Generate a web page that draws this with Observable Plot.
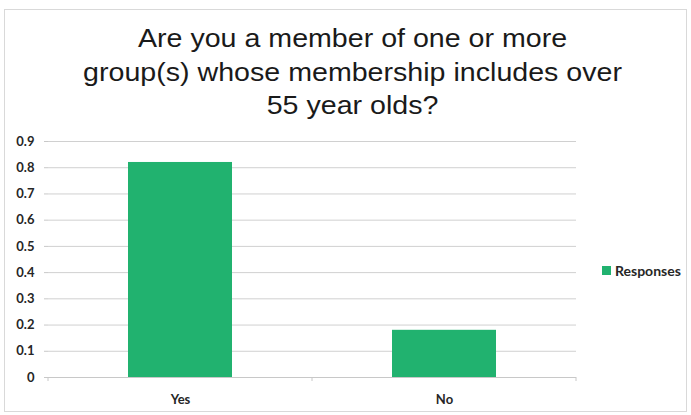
<!DOCTYPE html>
<html>
<head>
<meta charset="utf-8">
<script src="https://cdn.jsdelivr.net/npm/d3@7"></script>
<script src="https://cdn.jsdelivr.net/npm/@observablehq/plot@0.6"></script>
<style>
  html, body { margin: 0; padding: 0; background: #fff; }
  #wrap { position: relative; width: 691px; height: 415px; overflow: hidden; background: #fff; }
  #frame { position: absolute; left: 4px; top: 9px; width: 683px; height: 403px; border: 1px solid #d9d9d9; box-sizing: border-box; }
  #title { position: absolute; left: 7px; top: 22px; width: 691px; text-align: center;
           font-family: "Liberation Sans", Arial, sans-serif; font-size: 26px; line-height: 33.5px; color: #1a1a1a;
           transform: scaleX(1.1); transform-origin: 345px 0; }
  #chart { position: absolute; left: 0; top: 122px; }
  #legend { position: absolute; left: 602px; top: 262px; font-family: Lato, "Open Sans", sans-serif;
            font-weight: 700; font-size: 14px; color: #262626; display: flex; align-items: center; }
  #legend .sw { width: 9px; height: 9px; margin-right: 4px; }
</style>
</head>
<body>
<div id="wrap">
  <div id="frame"></div>
  <div id="title">Are you a member of one or more<br>group(s) whose membership includes over<br>55 year olds?</div>
  <div id="chart"></div>
  <div id="legend"><div class="sw"></div><span>Responses</span></div>
</div>
<script>
const categories = ["Yes", "No"];
const responses = [0.82, 0.18];
const yTicks = [0, 0.1, 0.2, 0.3, 0.4, 0.5, 0.6, 0.7, 0.8, 0.9];
const seriesName = "Responses";
const barColor = "#21b26f";

const data = categories.map((c, i) => ({category: c, value: responses[i]}));

document.querySelector("#legend .sw").style.background = barColor;
document.querySelector("#legend span").textContent = seriesName;

const fontFamily = 'Lato, "Open Sans", sans-serif';

const chart = Plot.plot({
  width: 691,
  height: 293,
  marginLeft: 48,
  marginRight: 115,
  marginTop: 19,
  marginBottom: 38,
  style: {fontFamily, fontSize: "13px", fontWeight: 700, color: "#262626", background: "transparent"},
  x: {domain: categories, paddingInner: 0.606, paddingOuter: 0.303, label: null},
  y: {domain: [0, 0.9], label: null},
  marks: [
    Plot.gridY(yTicks, {stroke: "#d0d0d0", strokeOpacity: 1, strokeWidth: 1}),
    Plot.axisY(yTicks, {
      tickSize: 4, tickPadding: 10, stroke: "#c8c8c8",
      tickFormat: d => String(+d.toFixed(1)), label: null, fill: "#262626"
    }),
    Plot.ruleX([0], {frameAnchor: "left", stroke: "#c8c8c8"}),
    Plot.barY(data, {x: "category", y: "value", fill: barColor}),
    Plot.ruleY([0], {stroke: "#c8c8c8"}),
    Plot.axisX({tickSize: 0, tickPadding: 17, label: null, fill: "#262626"})
  ]
});
document.getElementById("chart").appendChild(chart);

// small category-boundary ticks on the x axis, placed through the x scale
const xs = chart.scale("x");
const ys = chart.scale("y");
const svg = d3.select(chart);
const step = xs.step;
const bounds = [];
categories.forEach((c, i) => {
  const center = xs.apply(c) + xs.bandwidth / 2;
  if (i === 0) bounds.push(center - step / 2);
  bounds.push(center + step / 2);
});
const y0 = ys.apply(0);
svg.append("g").selectAll("line").data(bounds).join("line")
  .attr("x1", d => d).attr("x2", d => d)
  .attr("y1", y0).attr("y2", y0 + 4)
  .attr("stroke", "#c8c8c8");
</script>
</body>
</html>
